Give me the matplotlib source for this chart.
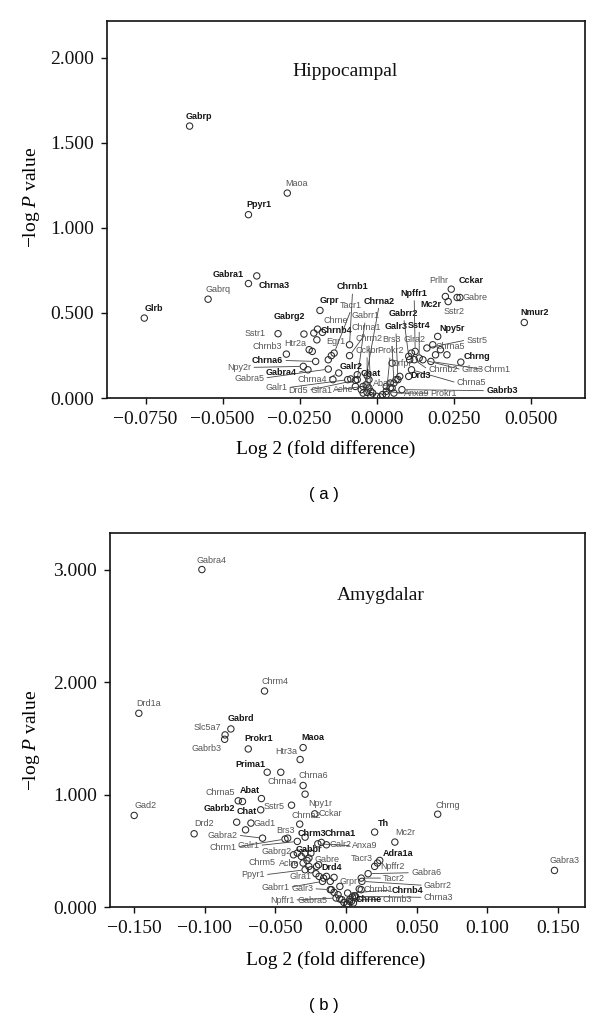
import matplotlib
matplotlib.use('Agg')
import matplotlib.pyplot as plt
from matplotlib.ticker import FuncFormatter

plt.rcParams['mathtext.fontset'] = 'custom'
plt.rcParams['mathtext.rm'] = 'Liberation Serif'
plt.rcParams['mathtext.it'] = 'Liberation Serif:italic'

SERIF = 'Liberation Serif'
SANS = 'Liberation Sans'

# ---- panel (a): hippocampal ----
genes_a = ["Gabrp", "Maoa", "Ppyr1", "Gabra1", "Chrna3", "Gabrq", "Glrb", "Nmur2",
           "Sstr1", "Gabrg2", "Grpr", "Chrne", "Chrnb4", "Htr2a", "Chrnb3", "Egr1",
           "Chrna6", "Npy2r", "Gabra4", "Gabra5", "Chrna4", "Galr1", "Drd5", "Glra1",
           "Ache", "Chrnb1", "Tacr1", "Chrna2", "Gabrr1", "Chrna1", "Chrm2", "Cckbr",
           "Galr2", "Chat", "Abat", "Prokr2", "Brs3", "Glra2", "Galr3", "Gabrr2",
           "Sstr4", "Npffr1", "Mc2r", "Prlhr", "Cckar", "Gabre", "Sstr2", "Npy5r",
           "Sstr5", "Chrna5", "Chrng", "Chrm1", "Glra3", "Chrnb2", "Chrna5", "Gabrb3",
           "Drd3", "Orfpr", "Anxa9", "Prokr1"]
fold_a = [-0.0607, -0.0290, -0.0416, -0.0389, -0.0416, -0.0547, -0.0754, 0.0479,
          -0.0320, -0.0236, -0.0184, -0.0192, -0.0176, -0.0219, -0.0293, -0.0147,
          -0.0198, -0.0238, -0.0223, -0.0157, -0.0123, -0.0094, -0.0069, -0.0044,
          -0.0025, -0.0088, -0.0138, -0.0044, -0.0063, -0.0088, -0.0019, -0.0031,
          -0.0063, -0.0034, 0.0044, 0.0031, 0.0056, 0.0113, 0.0069, 0.0104,
          0.0138, 0.0125, 0.0261, 0.0223, 0.0242, 0.0270, 0.0232, 0.0198,
          0.0163, 0.0182, 0.0273, 0.0176, 0.0150, 0.0122, 0.0113, 0.0082,
          0.0104, 0.0050, 0.0031, 0.0056]
logp_a = [1.599, 1.205, 1.078, 0.718, 0.673, 0.581, 0.470, 0.444,
          0.378, 0.376, 0.515, 0.405, 0.386, 0.284, 0.258, 0.249,
          0.215, 0.186, 0.166, 0.170, 0.147, 0.108, 0.104, 0.068,
          0.059, 0.313, 0.264, 0.029, 0.108, 0.249, 0.014, 0.033,
          0.137, 0.078, 0.059, 0.020, 0.088, 0.264, 0.108, 0.245,
          0.235, 0.274, 0.591, 0.597, 0.640, 0.591, 0.567, 0.362,
          0.294, 0.313, 0.211, 0.215, 0.225, 0.225, 0.166, 0.049,
          0.127, 0.205, 0.039, 0.029]
other_fold_a = [-0.0204, -0.0194, -0.0209, -0.0157, -0.0142, -0.0084, -0.0069, -0.0050,
                -0.0013, 0.0000, 0.0013, 0.0019, 0.0044, 0.0063, 0.0075, 0.0191,
                0.0228, 0.0107, -0.0025, -0.0031, 0.0031, 0.0050, -0.0019, 0.0207]
other_logp_a = [0.382, 0.342, 0.274, 0.225, 0.108, 0.112, 0.068, 0.049,
                0.029, 0.010, 0.006, 0.020, 0.088, 0.108, 0.127, 0.254,
                0.254, 0.225, 0.108, 0.131, 0.068, 0.059, 0.039, 0.284]

# ---- panel (b): amygdalar ----
genes_b = ["Gabra4", "Chrm4", "Drd1a", "Gabrd", "Slc5a7", "Gabrb3", "Prokr1", "Maoa",
           "Htr3a", "Prima1", "Chrna4", "Chrna6", "Npy1r", "Gad2", "Chrng", "Gabra3",
           "Chrna5", "Abat", "Gabrb2", "Chat", "Sstr5", "Drd2", "Gad1", "Gabra2",
           "Brs3", "Chrm1", "Galr1", "Chrna2", "Cckar", "Chrm3", "Chrna1", "Galr2",
           "Anxa9", "Th", "Mc2r", "Adra1a", "Tacr3", "Npffr2", "Gabra6", "Tacr2",
           "Gabrr2", "Chrnb1", "Chrnb4", "Chrna3", "Chrnb3", "Chrne", "Grpr", "Drd4",
           "Gabre", "Gabrg2", "Gabbr", "Chrm5", "Ache", "Ppyr1", "Glra1", "Galr3",
           "Gabrr1", "Npffr1", "Gabra5"]
fold_b = [-0.1020, -0.0577, -0.1466, -0.0815, -0.0856, -0.0859, -0.0692, -0.0304,
          -0.0325, -0.0558, -0.0462, -0.0304, -0.0290, -0.1499, 0.0648, 0.1474,
          -0.0763, -0.0599, -0.0733, -0.0604, -0.0386, -0.1075, -0.0673, -0.0591,
          -0.0413, -0.0432, -0.0345, -0.0328, -0.0222, -0.0290, -0.0175, -0.0139,
          -0.0200, 0.0202, 0.0345, 0.0238, 0.0222, 0.0202, 0.0156, 0.0107,
          0.0112, 0.0107, 0.0011, 0.0066, 0.0025, 0.0038, -0.0085, -0.0194,
          -0.0263, -0.0345, -0.0290, -0.0366, -0.0304, -0.0290, -0.0213, -0.0112,
          -0.0167, -0.0071, -0.0044]
logp_b = [3.000, 1.920, 1.722, 1.583, 1.530, 1.491, 1.405, 1.417,
          1.311, 1.198, 1.198, 1.080, 1.003, 0.814, 0.825, 0.325,
          0.944, 0.964, 0.938, 0.864, 0.905, 0.651, 0.746, 0.612,
          0.612, 0.604, 0.583, 0.737, 0.828, 0.621, 0.574, 0.553,
          0.562, 0.666, 0.577, 0.414, 0.391, 0.361, 0.296, 0.257,
          0.228, 0.154, 0.124, 0.095, 0.065, 0.050, 0.263, 0.376,
          0.435, 0.479, 0.479, 0.376, 0.391, 0.331, 0.296, 0.154,
          0.228, 0.080, 0.071]
other_fold_b = [-0.0774, -0.0711, -0.0372, -0.0317, -0.0276, -0.0263, -0.0249, -0.0208,
                -0.0191, -0.0139, -0.0159, -0.0112, -0.0104, -0.0085, -0.0057, -0.0030,
                -0.0016, 0.0011, 0.0025, 0.0044, 0.0060, 0.0071, 0.0052, 0.0005,
                0.0093, -0.0044, -0.0249]
other_logp_b = [0.754, 0.686, 0.464, 0.450, 0.414, 0.361, 0.331, 0.361,
                0.272, 0.272, 0.257, 0.228, 0.154, 0.130, 0.109, 0.065,
                0.041, 0.030, 0.050, 0.089, 0.101, 0.080, 0.036, 0.021,
                0.160, 0.183, 0.479]

xticks_a = [-0.075, -0.050, -0.025, 0.0, 0.025, 0.050]
yticks_a = [0.0, 0.5, 1.0, 1.5, 2.0]
xticks_b = [-0.150, -0.100, -0.050, 0.0, 0.050, 0.100, 0.150]
yticks_b = [0.0, 1.0, 2.0, 3.0]

# label layout: offset in pixels (dx, dy) from the point, and leader line flag
place_a = [(9, 10, 0), (9, 10, 0), (10, 10, 0), (-29, 1, 0), (26, -2, 0), (10, 10, 0), (10, 10, 0), (10, 10, 0),
           (-23, 0, 0), (-15, 18, 0), (9, 10, 0), (18, 9, 0), (14, 2, 0), (-14, 6, 0), (-19, 8, 0), (4, 14, 0),
           (-48, 1, 1), (-64, -1, 1), (-27, -3, 1), (-79, -9, 1), (-27, -6, 1), (-71, -8, 1), (-57, -10, 1), (-42, -4, 1),
           (-26, -2, 0), (3, 58, 1), (17, 48, 1), (16, 92, 1), (8, 64, 1), (17, 28, 1), (-2, 57, 1), (0, 42, 1),
           (-6, 8, 0), (5, 11, 0), (-8, 4, 0), (4, 44, 1), (-2, 44, 1), (3, 14, 0), (-2, 53, 1), (-5, 43, 1),
           (0, 33, 1), (-1, 58, 1), (-26, -7, 0), (-7, 16, 0), (20, 9, 0), (15, 0, 0), (6, -10, 0), (14, 8, 0),
           (50, 8, 1), (17, -2, 0), (16, 6, 0), (66, -8, 1), (50, -10, 1), (29, -10, 1), (60, -13, 1), (100, -1, 1),
           (12, 1, 0), (10, 0, 0), (31, -2, 1), (50, 0, 1)]
place_b = [(10, 9, 0), (10, 10, 0), (10, 10, 0), (10, 10, 0), (-18, 7, 0), (-18, -9, 0), (10, 10, 0), (10, 10, 0),
           (-14, 8, 0), (-17, 8, 0), (1, -9, 0), (10, 10, 0), (15, -9, 0), (11, 10, 0), (10, 9, 0), (10, 10, 0),
           (-18, 8, 0), (-12, 8, 0), (-23, -7, 0), (-14, -2, 0), (-17, -1, 0), (10, 10, 0), (14, 0, 0), (-40, 3, 1),
           (-2, 8, 0), (-62, -8, 1), (-49, -4, 1), (7, 9, 0), (16, 0, 0), (7, 4, 0), (19, 9, 0), (14, 0, 0),
           (47, -2, 1), (9, 9, 0), (10, 10, 0), (18, 7, 0), (-16, 5, 0), (18, 0, 0), (58, 1, 1), (33, 0, 1),
           (76, -4, 1), (17, 0, 0), (60, 3, 1), (83, -1, 1), (48, 0, 1), (17, 2, 0), (14, -4, 0), (13, -3, 0),
           (18, -1, 0), (-21, 2, 0), (4, 4, 0), (-32, 2, 0), (-14, 0, 0), (-52, -5, 1), (-15, -3, 0), (-28, 1, 1),
           (-47, -6, 1), (-54, -2, 1), (-27, -1, 0)]

bold_a = {"Gabrp", "Ppyr1", "Gabra1", "Chrna3", "Glrb", "Grpr", "Gabrg2", "Chrnb4", "Chrnb1",
          "Chrna2", "Npffr1", "Mc2r", "Gabrr2", "Galr3", "Sstr4", "Npy5r", "Chrng", "Cckar",
          "Nmur2", "Gabra4", "Drd3", "Gabrb3", "Chat", "Galr2", "Chrna6"}
bold_b = {"Gabrd", "Prokr1", "Maoa", "Prima1", "Abat", "Chat", "Gabrb2", "Th", "Adra1a",
          "Drd4", "Chrnb4", "Chrm3", "Chrna1", "Gabbr", "Chrne"}


def fmt(decimals):
    def f(v, pos):
        s = f"{abs(v):.{decimals}f}"
        return ("\u2212" + s) if v < -1e-12 else s
    return FuncFormatter(f)


def draw_panel(ax, genes, xs, ys, oxs, oys, place, bold, xticks, yticks, xdec, xlim, ylim, title, title_pos):
    ax.scatter(oxs, oys, s=21, facecolors='none', edgecolors='#2a2a2a', linewidths=0.75, zorder=3)
    ax.scatter(xs, ys, s=21, facecolors='none', edgecolors='#2a2a2a', linewidths=0.75, zorder=3)
    for g, x, y, (dx, dy, line) in zip(genes, xs, ys, place):
        is_bold = g in bold
        kw = dict(xy=(x, y), xytext=(dx, dy), textcoords='offset pixels', ha='center', va='center',
                  fontsize=6.5, family=SANS, color='#151515' if is_bold else '#555555',
                  fontweight='bold' if is_bold else 'normal', zorder=4)
        if line:
            if abs(dy) > abs(dx):
                rel = (0.5, 0.0) if dy > 0 else (0.5, 1.0)
            else:
                rel = (1.0, 0.5) if dx < 0 else (0.0, 0.5)
            kw['arrowprops'] = dict(arrowstyle='-', color='#444444', lw=0.6,
                                    shrinkA=0, shrinkB=2.8, relpos=rel)
        ax.annotate(g, **kw)
    ax.set_xlim(*xlim)
    ax.set_ylim(*ylim)
    ax.set_xticks(xticks)
    ax.set_yticks(yticks)
    ax.xaxis.set_major_formatter(fmt(xdec))
    ax.yaxis.set_major_formatter(fmt(3))
    ax.tick_params(direction='out', length=4.5, width=1.0, labelsize=14, colors='#111111', pad=5)
    for lab in ax.get_xticklabels() + ax.get_yticklabels():
        lab.set_family(SERIF)
    for sp in ax.spines.values():
        sp.set_linewidth(1.2)
        sp.set_color('#111111')
    ax.text(title_pos[0], title_pos[1], title, transform=ax.transAxes, ha='center', va='center',
            fontsize=14, family=SERIF, color='#111111')


fig = plt.figure(figsize=(6, 10.22), dpi=100)
H = 1022.0
W = 600.0

ax_a = fig.add_axes([107 / W, 1 - 398 / H, 478 / W, 377 / H])
draw_panel(ax_a, genes_a, fold_a, logp_a, other_fold_a, other_logp_a, place_a, bold_a,
           xticks_a, yticks_a, 4, (-0.0875, 0.0676), (0, 2.217), "Hippocampal", (0.498, 0.865))

ax_b = fig.add_axes([110 / W, 1 - 907 / H, 475 / W, 374 / H])
draw_panel(ax_b, genes_b, fold_b, logp_b, other_fold_b, other_logp_b, place_b, bold_b,
           xticks_b, yticks_b, 3, (-0.167, 0.169), (0, 3.325), "Amygdalar", (0.571, 0.832))

ylab = "\u2212log $P$ value"
fig.text(31 / W, 1 - 197 / H, ylab, rotation=90, ha='center', va='center', fontsize=14, family=SERIF)
fig.text(31 / W, 1 - 740 / H, ylab, rotation=90, ha='center', va='center', fontsize=14, family=SERIF)
fig.text(326 / W, 1 - 449 / H, "Log 2 (fold difference)", ha='center', va='center', fontsize=14, family=SERIF)
fig.text(336 / W, 1 - 960 / H, "Log 2 (fold difference)", ha='center', va='center', fontsize=14, family=SERIF)
fig.text(324 / W, 1 - 494 / H, "( a )", ha='center', va='center', fontsize=12, family=SANS)
fig.text(324 / W, 1 - 1005 / H, "( b )", ha='center', va='center', fontsize=12, family=SANS)

fig.savefig("out.png", dpi=100)
